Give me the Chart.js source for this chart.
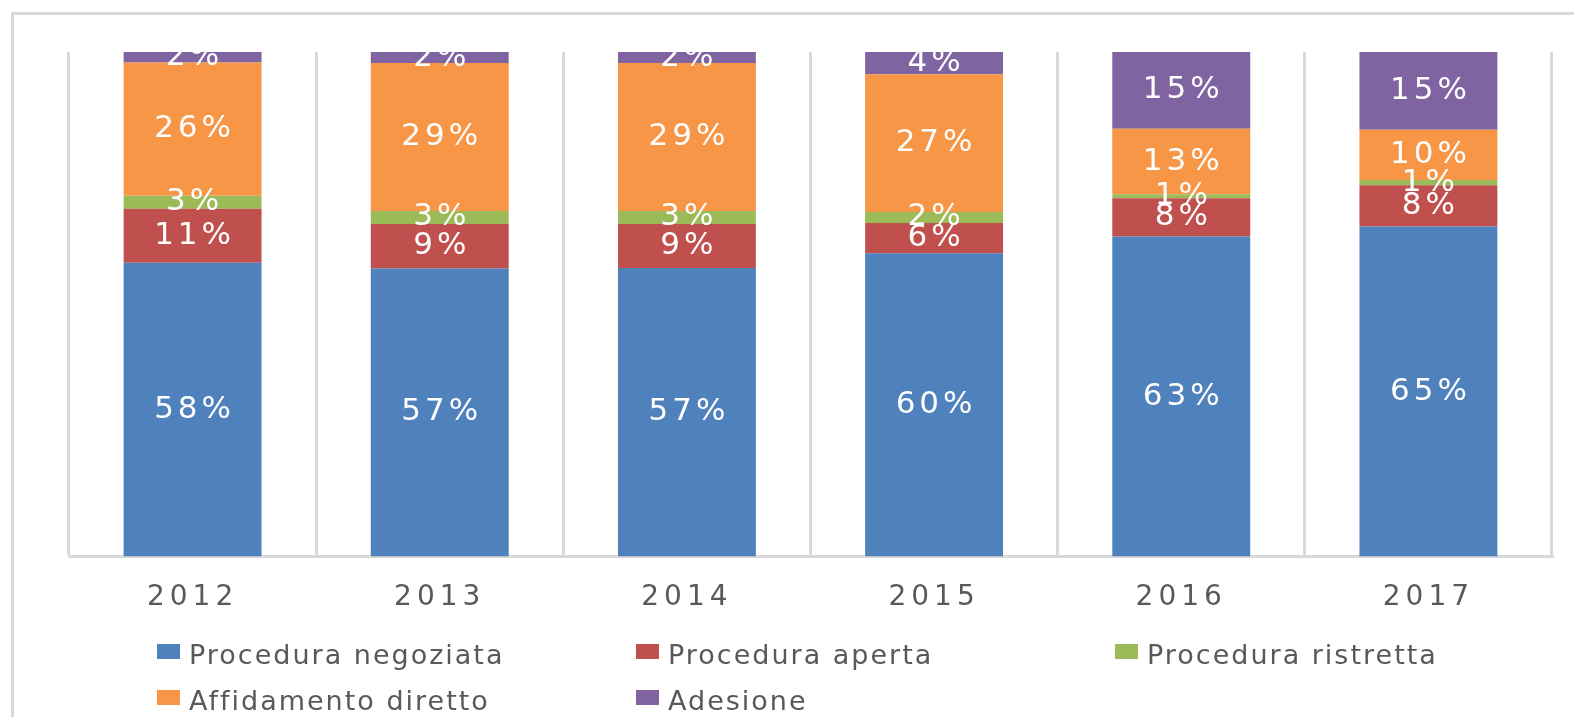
<!DOCTYPE html>
<html lang="it">
<head>
<meta charset="utf-8">
<title>Procedure di affidamento 2012-2017</title>
<script src="https://cdn.jsdelivr.net/npm/chart.js@4.4.1/dist/chart.umd.min.js"></script>
<style>
    html, body { margin: 0; padding: 0; background: #fff; overflow: hidden; }
    #wrap { position: relative; width: 1574px; height: 717px; overflow: hidden; }
    #cornice { position: absolute; left: 11px; top: 12px; width: 1600px; height: 800px;
               border-left: 3px solid #d9d9d9; border-top: 3px solid #d9d9d9; }
    #grafico { position: absolute; left: 0; top: 0; }
    #legenda { position: absolute; left: 157px; top: 632px; width: 1437px;
               font-family: "DejaVu Sans", sans-serif; font-size: 27px; letter-spacing: 2px;
               color: #595959; }
    .voce { position: absolute; height: 46px; line-height: 46px; white-space: nowrap; }
    .voce span.box { position: absolute; left: 0; top: 12px; width: 23px; height: 15px; }
    .voce span.testo { position: absolute; left: 32px; top: 0; }
</style>
</head>
<body>
<div id="wrap">
    <div id="cornice"></div>
    <canvas id="grafico" width="1574" height="717"></canvas>
    <div id="legenda"></div>
</div>
<script>
// Dati (percentuali)
const anni = ['2012', '2013', '2014', '2015', '2016', '2017'];
const serie = ['Procedura negoziata', 'Procedura aperta', 'Procedura ristretta', 'Affidamento diretto', 'Adesione'];
const negoziata  = [58.2, 57.1, 57.2, 60.1, 63.4, 65.4];
const aperta     = [10.7,  8.8,  8.7,  6.0,  7.6,  8.2];
const ristretta  = [ 2.6,  2.6,  2.6,  2.2,  0.8,  1.0];
const affidamento = [26.4, 29.3, 29.3, 27.3, 13.0, 10.0];
const adesione   = [ 2.1,  2.2,  2.2,  4.4, 15.2, 15.4];
const colori = ['#4f81bd', '#c0504d', '#9bbb59', '#f79646', '#8064a2'];

document.addEventListener('DOMContentLoaded', function() {
    const valori = [negoziata, aperta, ristretta, affidamento, adesione];

    // etichette percentuali dentro le barre
    const etichette = {
        id: 'etichette',
        afterDatasetsDraw(chart) {
            const ctx = chart.ctx;
            ctx.save();
            ctx.font = '31px "DejaVu Sans"';
            ctx.letterSpacing = '4px';
            ctx.fillStyle = '#ffffff';
            ctx.textAlign = 'center';
            ctx.textBaseline = 'middle';
            chart.data.datasets.forEach((ds, i) => {
                chart.getDatasetMeta(i).data.forEach((bar, j) => {
                    const p = bar.getProps(['x', 'y', 'base'], true);
                    ctx.fillText(Math.round(ds.data[j]) + '%', p.x + 2, (p.y + p.base) / 2);
                });
            });
            ctx.restore();
        }
    };

    // spaziatura delle lettere per le etichette dell'asse
    const spaziatura = {
        id: 'spaziatura',
        beforeDraw(chart) {
            chart.ctx.letterSpacing = '5px';
        }
    };

    const ctx = document.getElementById('grafico').getContext('2d');
    new Chart(ctx, {
        type: 'bar',
        data: {
            labels: anni,
            datasets: serie.map((nome, i) => ({
                label: nome,
                data: valori[i],
                backgroundColor: colori[i],
                borderWidth: 0,
                categoryPercentage: 1,
                barPercentage: 0.558
            }))
        },
        options: {
            responsive: false,
            animation: false,
            layout: {
                padding: { left: 69, right: 22, top: 52, bottom: 77 }
            },
            plugins: {
                legend: { display: false },
                tooltip: { enabled: false }
            },
            scales: {
                x: {
                    stacked: true,
                    grid: {
                        offset: true,
                        color: '#d9d9d9',
                        lineWidth: 3,
                        drawTicks: false
                    },
                    border: { display: true, color: '#d9d9d9', width: 3 },
                    ticks: {
                        color: '#595959',
                        padding: 25,
                        font: { family: 'DejaVu Sans', size: 28 }
                    }
                },
                y: {
                    stacked: true,
                    display: false,
                    min: 0,
                    max: 100
                }
            }
        },
        plugins: [etichette, spaziatura]
    });

    // legenda in tre colonne
    const legenda = document.getElementById('legenda');
    serie.forEach((nome, i) => {
        const voce = document.createElement('div');
        voce.className = 'voce';
        voce.style.left = (i % 3) * 479 + 'px';
        voce.style.top = Math.floor(i / 3) * 46 + 'px';
        voce.innerHTML = '<span class="box" style="background:' + colori[i] + '"></span>' +
                         '<span class="testo">' + nome + '</span>';
        legenda.appendChild(voce);
    });
});
</script>
</body>
</html>
